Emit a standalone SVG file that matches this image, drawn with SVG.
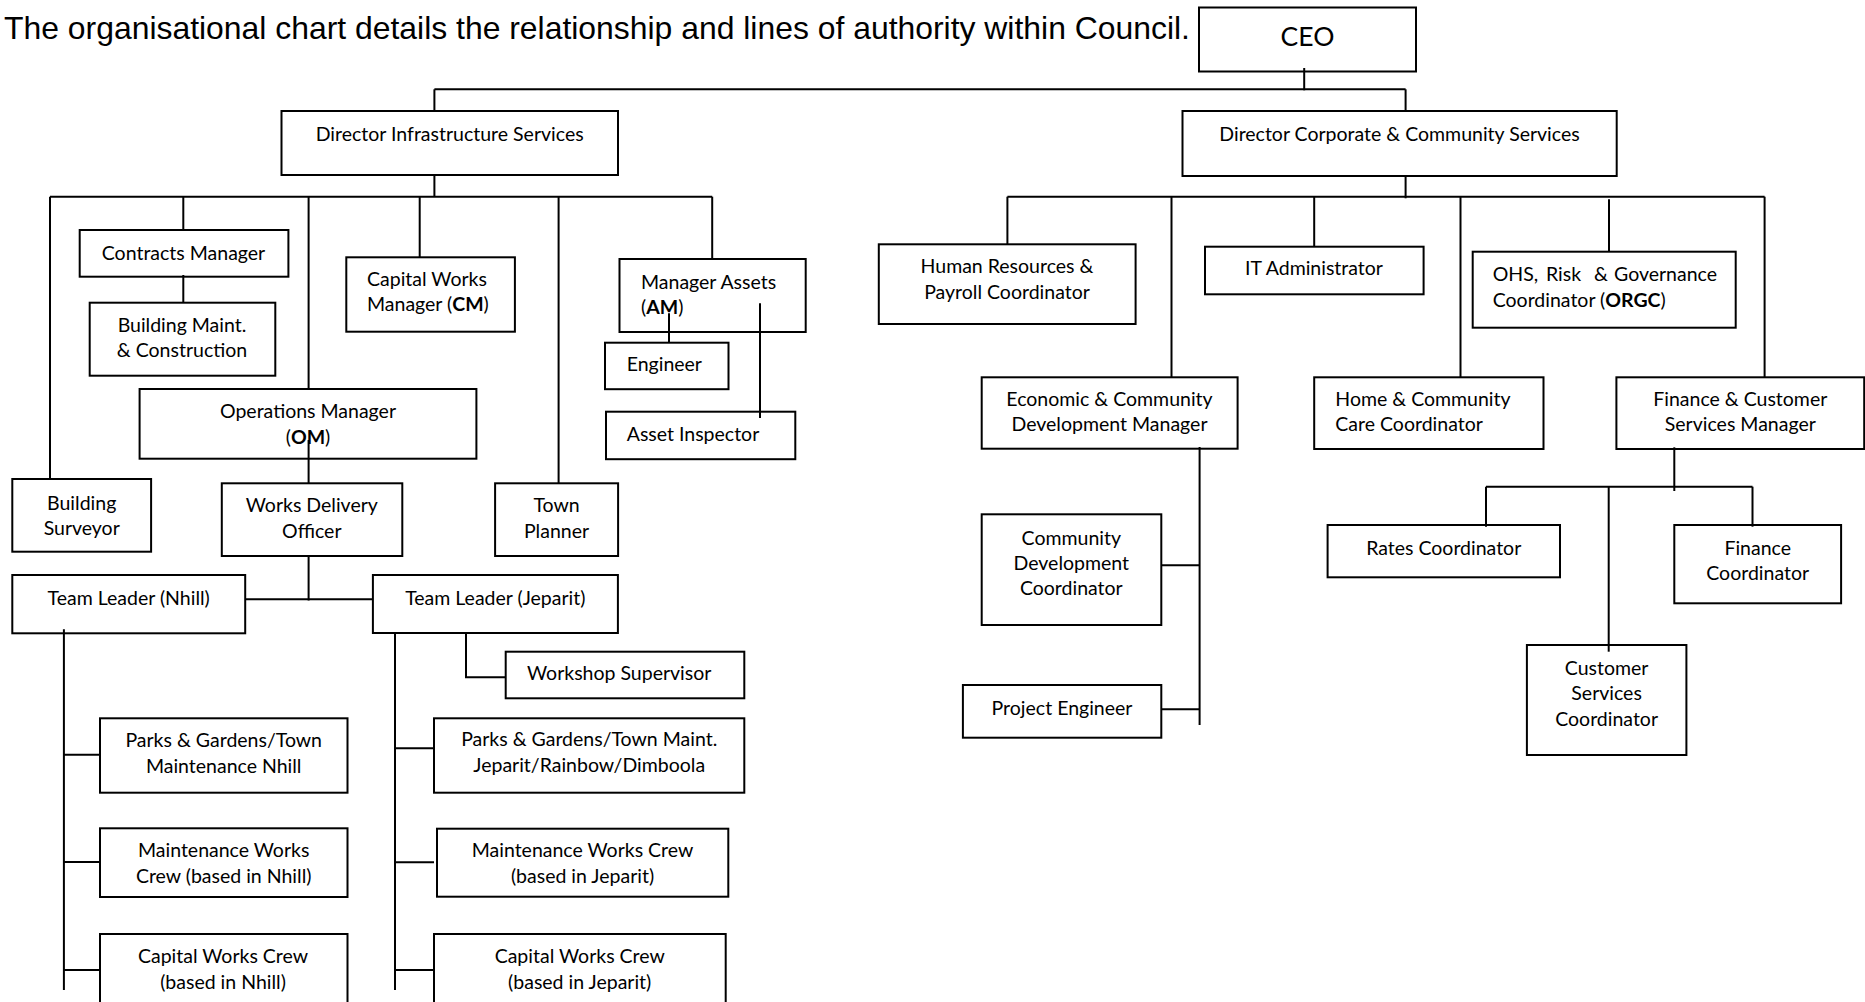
<svg xmlns="http://www.w3.org/2000/svg" width="1865" height="1002" viewBox="0 0 1865 1002">
  <style>
    .box { fill: #fff; stroke: #000; stroke-width: 2; }
    .ln { fill: none; stroke: #000; stroke-width: 2; }
    .t { font-family: Lato, "Open Sans", sans-serif; font-size: 19.5px; fill: #000; }
    .c { text-anchor: middle; }
    .b { font-weight: bold; }
    .title { font-family: "Liberation Sans", Arial, sans-serif; font-size: 31.9px; fill: #000; }
  </style>

  <rect width="1865" height="1002" fill="#fff"/>

  <text class="title" x="4" y="39">The organisational chart details the relationship and lines of authority within Council.</text>

  <!-- Executive -->
  <g id="ceo">
    <rect class="box" x="1199" y="7.5" width="217" height="64"/>
    <text class="t c" x="1307.5" y="46" style="font-size:26.5px">CEO</text>
  </g>

  <g id="dir-infrastructure">
    <rect class="box" x="281.5" y="111" width="336.5" height="64"/>
    <text class="t c" x="449.7" y="140.5">Director Infrastructure Services</text>
  </g>

  <g id="dir-corporate">
    <rect class="box" x="1182.5" y="111" width="434.2" height="65"/>
    <text class="t c" x="1399.5" y="140.5">Director Corporate &amp; Community Services</text>
  </g>

  <!-- Infrastructure branch -->
  <g id="contracts-manager">
    <rect class="box" x="79.7" y="230" width="208.7" height="46.7"/>
    <text class="t c" x="183.5" y="259.5">Contracts Manager</text>
  </g>

  <g id="building-maint">
    <rect class="box" x="89.7" y="302.7" width="185.6" height="73"/>
    <text class="t c" x="182" y="331.6">Building Maint.</text>
    <text class="t c" x="182" y="357.3">&amp; Construction</text>
  </g>

  <g id="capital-works-manager">
    <rect class="box" x="346.3" y="257.3" width="168.6" height="74.4"/>
    <text class="t" x="367" y="285.5">Capital Works</text>
    <text class="t" x="367" y="311">Manager (<tspan class="b">CM</tspan>)</text>
  </g>

  <g id="manager-assets">
    <rect class="box" x="619.5" y="259" width="186.2" height="73"/>
    <text class="t" x="641" y="288.5">Manager Assets</text>
    <text class="t" x="641" y="314">(<tspan class="b">AM</tspan>)</text>
  </g>

  <g id="engineer">
    <rect class="box" x="605" y="342.7" width="123.5" height="46.5"/>
    <text class="t" x="626.7" y="371">Engineer</text>
  </g>

  <g id="asset-inspector">
    <rect class="box" x="606" y="411.7" width="189.3" height="47.5"/>
    <text class="t" x="626.7" y="441">Asset Inspector</text>
  </g>

  <g id="operations-manager">
    <rect class="box" x="139.6" y="389" width="336.8" height="69.7"/>
    <text class="t c" x="308" y="418">Operations Manager</text>
    <text class="t c" x="308" y="444">(<tspan class="b">OM</tspan>)</text>
  </g>

  <g id="building-surveyor">
    <rect class="box" x="12.3" y="479" width="138.8" height="72.7"/>
    <text class="t c" x="81.7" y="509.7">Building</text>
    <text class="t c" x="81.7" y="535">Surveyor</text>
  </g>

  <g id="works-delivery-officer">
    <rect class="box" x="221.8" y="483.3" width="180.5" height="72.7"/>
    <text class="t c" x="311.8" y="512.3">Works Delivery</text>
    <text class="t c" x="311.8" y="538">Officer</text>
  </g>

  <g id="town-planner">
    <rect class="box" x="495.1" y="483.3" width="123" height="72.7"/>
    <text class="t c" x="556.5" y="512.3">Town</text>
    <text class="t c" x="556.5" y="538">Planner</text>
  </g>

  <g id="team-leader-nhill">
    <rect class="box" x="12.3" y="575" width="232.9" height="58.3"/>
    <text class="t c" x="128.7" y="604.7">Team Leader (Nhill)</text>
  </g>

  <g id="team-leader-jeparit">
    <rect class="box" x="372.9" y="575" width="245" height="58"/>
    <text class="t c" x="495.3" y="604.7">Team Leader (Jeparit)</text>
  </g>

  <g id="workshop-supervisor">
    <rect class="box" x="505.7" y="651.7" width="238.6" height="46.6"/>
    <text class="t c" x="619.2" y="680">Workshop Supervisor</text>
  </g>

  <g id="parks-nhill">
    <rect class="box" x="100" y="718.3" width="247.5" height="74.4"/>
    <text class="t c" x="223.7" y="747">Parks &amp; Gardens/Town</text>
    <text class="t c" x="223.7" y="772.7">Maintenance Nhill</text>
  </g>

  <g id="maintenance-crew-nhill">
    <rect class="box" x="100" y="828.3" width="247.5" height="68.7"/>
    <text class="t c" x="223.7" y="857.3">Maintenance Works</text>
    <text class="t c" x="223.7" y="883">Crew (based in Nhill)</text>
  </g>

  <g id="capital-crew-nhill">
    <rect class="box" x="100" y="934" width="247.5" height="80"/>
    <text class="t c" x="223" y="963">Capital Works Crew</text>
    <text class="t c" x="223" y="988.5">(based in Nhill)</text>
  </g>

  <g id="parks-jeparit">
    <rect class="box" x="434" y="718.3" width="310.3" height="74.4"/>
    <text class="t c" x="589.2" y="746.3">Parks &amp; Gardens/Town Maint.</text>
    <text class="t c" x="589.2" y="772">Jeparit/Rainbow/Dimboola</text>
  </g>

  <g id="maintenance-crew-jeparit">
    <rect class="box" x="437" y="828.7" width="291.3" height="68"/>
    <text class="t c" x="582.5" y="856.5">Maintenance Works Crew</text>
    <text class="t c" x="582.5" y="883">(based in Jeparit)</text>
  </g>

  <g id="capital-crew-jeparit">
    <rect class="box" x="434" y="934" width="291.7" height="80"/>
    <text class="t c" x="579.7" y="963">Capital Works Crew</text>
    <text class="t c" x="579.7" y="988.5">(based in Jeparit)</text>
  </g>

  <!-- Corporate & Community branch -->
  <g id="hr-payroll">
    <rect class="box" x="878.8" y="244.3" width="256.8" height="79.7"/>
    <text class="t c" x="1007" y="273">Human Resources &amp;</text>
    <text class="t c" x="1007" y="299">Payroll Coordinator</text>
  </g>

  <g id="it-administrator">
    <rect class="box" x="1205" y="246.7" width="218.6" height="47.6"/>
    <text class="t c" x="1314" y="274.5">IT Administrator</text>
  </g>

  <g id="ohs-risk">
    <rect class="box" x="1472.7" y="251.7" width="263" height="76"/>
    <text class="t" y="281.3"><tspan x="1492.7">OHS,</tspan><tspan x="1546">Risk</tspan><tspan x="1594">&amp;</tspan><tspan x="1614">Governance</tspan></text>
    <text class="t" x="1492.7" y="306.5">Coordinator (<tspan class="b">ORGC</tspan>)</text>
  </g>

  <g id="economic-community">
    <rect class="box" x="981.7" y="377.3" width="255.9" height="71.4"/>
    <text class="t c" x="1109.5" y="406.3">Economic &amp; Community</text>
    <text class="t c" x="1109.5" y="431.3">Development Manager</text>
  </g>

  <g id="home-community-care">
    <rect class="box" x="1314.2" y="377.3" width="229.3" height="71.7"/>
    <text class="t" x="1335.3" y="406.3">Home &amp; Community</text>
    <text class="t" x="1335.3" y="431.3">Care Coordinator</text>
  </g>

  <g id="finance-customer-manager">
    <rect class="box" x="1616.4" y="377.3" width="247.8" height="71.7"/>
    <text class="t c" x="1740.3" y="406.3">Finance &amp; Customer</text>
    <text class="t c" x="1740.3" y="431.3">Services Manager</text>
  </g>

  <g id="community-development">
    <rect class="box" x="981.7" y="514.3" width="179.6" height="110.7"/>
    <text class="t c" x="1071.3" y="544.7">Community</text>
    <text class="t c" x="1071.3" y="569.7">Development</text>
    <text class="t c" x="1071.3" y="594.7">Coordinator</text>
  </g>

  <g id="project-engineer">
    <rect class="box" x="962.9" y="685" width="198.4" height="52.7"/>
    <text class="t c" x="1062" y="714.7">Project Engineer</text>
  </g>

  <g id="rates-coordinator">
    <rect class="box" x="1327.6" y="525" width="232.4" height="52.3"/>
    <text class="t c" x="1443.7" y="554.7">Rates Coordinator</text>
  </g>

  <g id="finance-coordinator">
    <rect class="box" x="1674.3" y="525" width="166.8" height="78.3"/>
    <text class="t c" x="1757.7" y="554.7">Finance</text>
    <text class="t c" x="1757.7" y="580.3">Coordinator</text>
  </g>

  <g id="customer-services">
    <rect class="box" x="1526.9" y="645" width="159.5" height="110"/>
    <text class="t c" x="1606.6" y="674.7">Customer</text>
    <text class="t c" x="1606.6" y="699.7">Services</text>
    <text class="t c" x="1606.6" y="726">Coordinator</text>
  </g>

  <!-- Reporting lines -->
  <g id="connectors" class="ln">
    <!-- CEO to directors -->
    <path d="M1304.2,68 V90.3"/>
    <path d="M434.4,89.3 H1405.6"/>
    <path d="M434.4,89.3 V111"/>
    <path d="M1405.6,89.3 V111"/>

    <!-- Director Infrastructure bus -->
    <path d="M434.4,175 V196.7"/>
    <path d="M50,196.7 H712.2"/>
    <path d="M50,196.7 V479"/>
    <path d="M183.3,196.7 V230"/>
    <path d="M308.6,196.7 V389"/>
    <path d="M419.7,196.7 V257.3"/>
    <path d="M558.6,196.7 V483.3"/>
    <path d="M712.2,196.7 V259"/>

    <path d="M183.3,275 V302.7"/>
    <path d="M669,313.3 V342.7"/>
    <path d="M760,303.3 V418"/>

    <!-- Operations -->
    <path d="M308.6,440 V483.3"/>
    <path d="M308.6,556 V600.5"/>
    <path d="M245.2,599.3 H372.9"/>

    <!-- Nhill crews -->
    <path d="M63.9,629.3 V990"/>
    <path d="M63.9,754.7 H100"/>
    <path d="M63.9,862 H100"/>
    <path d="M63.9,970 H100"/>

    <!-- Jeparit crews -->
    <path d="M395,633 V990"/>
    <path d="M395,748.3 H434"/>
    <path d="M395,862.3 H434"/>
    <path d="M395,970 H434"/>
    <path d="M466,633 V677.3 H505.7"/>

    <!-- Director Corporate bus -->
    <path d="M1405.6,176 V198.3"/>
    <path d="M1007.4,196.7 H1764.6"/>
    <path d="M1007.4,196.7 V244.3"/>
    <path d="M1171.5,196.7 V377.3"/>
    <path d="M1314.2,196.7 V246.7"/>
    <path d="M1460.5,196.7 V377.3"/>
    <path d="M1609,199.3 V251.7"/>
    <path d="M1764.6,196.7 V377.3"/>

    <!-- Economic & Community -->
    <path d="M1199.6,447 V725"/>
    <path d="M1161.3,565.3 H1199.6"/>
    <path d="M1161.3,709.3 H1199.6"/>

    <!-- Finance & Customer -->
    <path d="M1674.3,447.3 V491"/>
    <path d="M1486,486.7 H1752.5"/>
    <path d="M1486,486.7 V526.7"/>
    <path d="M1752.5,486.7 V526.7"/>
    <path d="M1608.7,486.7 V651.7"/>
  </g>
</svg>
